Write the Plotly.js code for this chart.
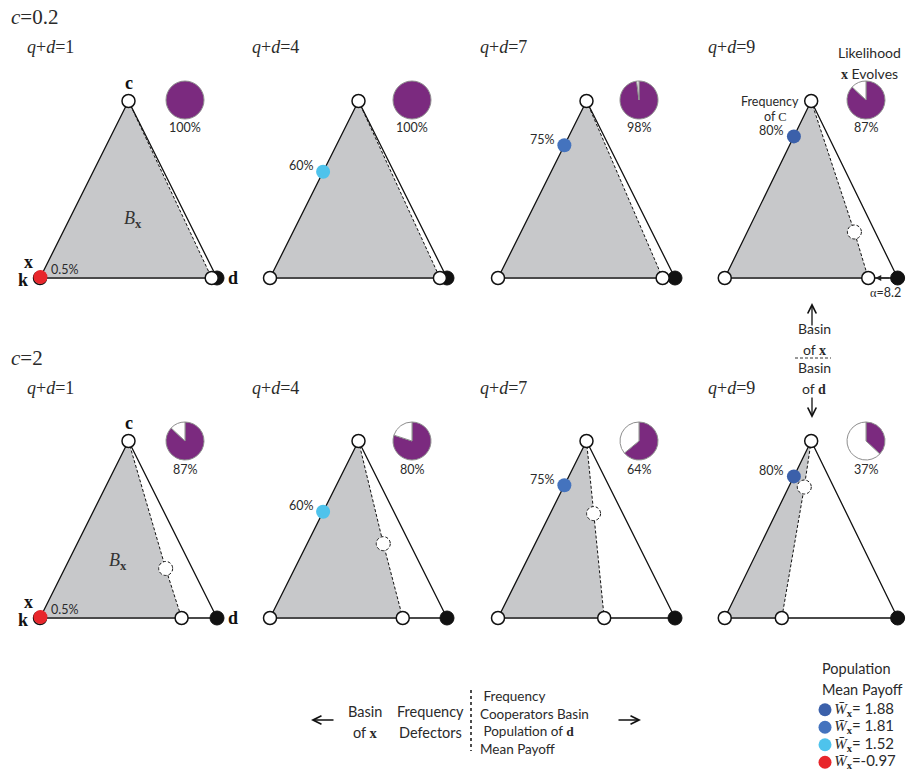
<!DOCTYPE html>
<html><head><meta charset="utf-8">
<script src="https://cdn.plot.ly/plotly-3.0.1.min.js"></script>
<style>html,body{margin:0;padding:0;background:#fff}</style>
</head><body><div id="chart" style="width:908px;height:773px"></div>
<script>
// ---------------- data ----------------
const rowCost = ['0.2', '2'];                    // c
const groupSize = [1, 4, 7, 9];                  // q+d
const likelihoodTop = [100, 100, 98, 87];        // % likelihood x evolves, c=0.2
const likelihoodBottom = [87, 80, 64, 37];       // % likelihood x evolves, c=2
const coopFreq = [0.5, 60, 75, 80];              // % cooperators at x
const meanPayoff = [-0.97, 1.52, 1.81, 1.88];    // population mean payoff at x
const payoffColors = ['#e8262b', '#4ec3ec', '#4473be', '#3b60aa'];
// basin boundary: point on the k-d edge (fraction along edge) and interior saddle (triangle units)
const basinEdgeTop = [0.97, 0.96, 0.93, 0.83];
const basinEdgeBottom = [0.80, 0.75, 0.60, 0.33];
const saddleXTop = [null, null, null, 0.75];
const saddleYTop = [null, null, null, 0.26];
const saddleXBottom = [0.71, 0.64, 0.54, 0.46];
const saddleYBottom = [0.28, 0.42, 0.59, 0.74];
const alphaValue = 8.2;

// ---------------- layout constants ----------------
const W = 908, H = 773;
const colLeft = [40, 270, 498, 725];
const triW = 177, triH = 177;
const rowBase = [278, 618];
const pieCX = [185, 412, 639, 866];
const pieCY = [100, 441];
const pieR = 19;
const qdLabelX = [25, 250, 478, 706];
const qdLabelY = [47, 388];
const costLabelY = [17, 358];
const bLabelPos = [[0.525, 0.33], [0.44, 0.32]];
const PAD = 0.06;
const SERIF = 'Liberation Serif';
const SANS = 'Lato';
const TXT = '#2a2a2a';

const px = v => v / W, py = v => 1 - v / H;
const traces = [], annotations = [], shapes = [];
const layout = {
  width: W, height: H, margin: {l: 0, r: 0, t: 0, b: 0, pad: 0},
  showlegend: false, paper_bgcolor: '#fff', plot_bgcolor: 'rgba(0,0,0,0)',
  font: {family: SANS, size: 12, color: TXT}
};

function ann(text, x, y, o) {
  return Object.assign({xref: 'paper', yref: 'paper', x: px(x), y: py(y), text: text,
    showarrow: false, xanchor: 'center', yanchor: 'middle',
    font: {family: SANS, size: 12.5, color: TXT}}, o || {});
}
const serif = s => '<span style="font-family:' + SERIF + '">' + s + '</span>';

const likelihood = [likelihoodTop, likelihoodBottom];
const basinEdge = [basinEdgeTop, basinEdgeBottom];
const saddleX = [saddleXTop, saddleXBottom];
const saddleY = [saddleYTop, saddleYBottom];

for (let r = 0; r < 2; r++) {
  annotations.push(ann('<i>c</i>=' + rowCost[r], 9, costLabelY[r],
    {xanchor: 'left', font: {family: SERIF, size: 21, color: TXT}}));
  for (let j = 0; j < 4; j++) {
    const n = r * 4 + j + 1;
    const xa = n === 1 ? 'x' : 'x' + n, ya = n === 1 ? 'y' : 'y' + n;
    const padW = PAD * triW, padH = PAD * triH;
    layout[n === 1 ? 'xaxis' : 'xaxis' + n] = {
      domain: [px(colLeft[j] - padW), px(colLeft[j] + triW + padW)],
      range: [-PAD, 1 + PAD], visible: false, fixedrange: true, anchor: ya};
    layout[n === 1 ? 'yaxis' : 'yaxis' + n] = {
      domain: [py(rowBase[r] + padH), py(rowBase[r] - triH - padH)],
      range: [-PAD, 1 + PAD], visible: false, fixedrange: true, anchor: xa};
    const base = {type: 'scatter', xaxis: xa, yaxis: ya, hoverinfo: 'skip', cliponaxis: false, showlegend: false};
    const be = basinEdge[r][j], sx = saddleX[r][j], sy = saddleY[r][j];
    const bxs = sx == null ? [0, 0.5, be, 0] : [0, 0.5, sx, be, 0];
    const bys = sx == null ? [0, 1, 0, 0] : [0, 1, sy, 0, 0];
    // basin of x (shaded)
    traces.push(Object.assign({}, base, {x: bxs, y: bys, mode: 'lines', fill: 'toself',
      fillcolor: '#c7c8ca', line: {width: 0}}));
    // k-d edge
    traces.push(Object.assign({}, base, {x: [0, 1], y: [0, 0], mode: 'lines', line: {color: '#4a4a4a', width: 2}}));
    // k-c-d edges
    traces.push(Object.assign({}, base, {x: [0, 0.5, 1], y: [0, 1, 0], mode: 'lines', line: {color: '#111', width: 1.3}}));
    // basin boundary (dashed)
    const dxs = sx == null ? [0.5, be] : [0.5, sx, be];
    const dys = sx == null ? [1, 0] : [1, sy, 0];
    traces.push(Object.assign({}, base, {x: dxs, y: dys, mode: 'lines', line: {color: '#111', width: 1, dash: '3px,2px'}}));
    // vertices
    traces.push(Object.assign({}, base, {x: [1], y: [0], mode: 'markers',
      marker: {size: 14, color: '#111', line: {color: '#111', width: 1}}}));
    traces.push(Object.assign({}, base, {x: [0, 0.5, be], y: [0, 1, 0], mode: 'markers',
      marker: {size: 13, color: '#fff', line: {color: '#111', width: 1.5}}}));
    // saddle (dashed open circle)
    if (sx != null) {
      shapes.push({type: 'circle', xref: xa, yref: ya, xsizemode: 'pixel', ysizemode: 'pixel',
        xanchor: sx, yanchor: sy, x0: -7, x1: 7, y0: -7, y1: 7, fillcolor: '#fff',
        line: {color: '#111', width: 1, dash: '3px,2px'}, layer: 'above'});
    }
    // frequency of cooperators at x
    const f = coopFreq[j] / 100;
    traces.push(Object.assign({}, base, {x: [0.5 * f], y: [f], mode: 'markers',
      marker: {size: 14, color: payoffColors[j], line: {width: 0}}}));
    annotations.push({xref: xa, yref: ya, x: 0.5 * f, y: f, text: coopFreq[j] + '%', showarrow: false,
      xshift: j === 0 ? 24 : -22, yshift: j === 0 ? 8 : 6, font: {family: SANS, size: 12.5, color: TXT}});
    // q+d label
    annotations.push(ann('<i>q</i>+<i>d</i>=' + groupSize[j], qdLabelX[j], qdLabelY[r],
      {xanchor: 'left', font: {family: SERIF, size: 18, color: TXT}}));
    // pie: likelihood x evolves
    const p = likelihood[r][j];
    const vals = p >= 100 ? [p] : [p, 100 - p];
    traces.push({type: 'pie', values: vals, sort: false, direction: 'clockwise', rotation: 0,
      marker: {colors: ['#7b2a7f', '#ffffff'], line: {color: '#8e8e8e', width: 1}},
      textinfo: 'none', hoverinfo: 'skip', showlegend: false,
      domain: {x: [px(pieCX[j] - pieR), px(pieCX[j] + pieR)], y: [py(pieCY[r] + pieR), py(pieCY[r] - pieR)]}});
    annotations.push(ann(p + '%', pieCX[j], pieCY[r] + 28));
    if (j === 0) {
      const vf = {family: SERIF, size: 18, color: '#111'};
      annotations.push({xref: xa, yref: ya, x: 0.5, y: 1, text: '<b>c</b>', showarrow: false, yshift: 18, font: vf});
      annotations.push({xref: xa, yref: ya, x: 0, y: 0, text: '<b>x</b>', showarrow: false, xshift: -12, yshift: 16, font: vf});
      annotations.push({xref: xa, yref: ya, x: 0, y: 0, text: '<b>k</b>', showarrow: false, xshift: -17, yshift: -2, font: vf});
      annotations.push({xref: xa, yref: ya, x: 1, y: 0, text: '<b>d</b>', showarrow: false, xshift: 16, yshift: 0, font: vf});
      annotations.push({xref: xa, yref: ya, x: bLabelPos[r][0], y: bLabelPos[r][1], text: '<i>B</i><sub><b>x</b></sub>',
        showarrow: false, font: {family: SERIF, size: 18, color: '#333'}});
    }
    if (r === 0 && j === 3) {
      // alpha arrow from d to boundary point
      annotations.push({xref: xa, yref: ya, x: be, y: 0, axref: xa, ayref: ya, ax: 1, ay: 0, text: '',
        showarrow: true, arrowhead: 2, arrowsize: 1, arrowwidth: 1.2, arrowcolor: '#222', standoff: 7, startstandoff: 7});
    }
  }
}

// stacked two-line label: first line sits above the split, second below it
function stack2(t1, t2, x, ySplit, o, size) {
  const f = {font: {family: SANS, size: size || 14.5, color: TXT}};
  annotations.push(ann(t1, x, ySplit, Object.assign({}, f, o || {}, {yanchor: 'bottom'})));
  annotations.push(ann(t2, x, ySplit, Object.assign({}, f, o || {}, {yanchor: 'top'})));
}

// top-right annotations
stack2('Likelihood', serif('<b>x</b>') + ' Evolves', 869, 63, {}, 14);
annotations.push(ann('Frequency', 770, 102));
annotations.push(ann('of ' + serif('C'), 775, 116));
annotations.push(ann(serif('α') + '=' + alphaValue, 885, 293));

// middle-right key
stack2('Basin', 'of ' + serif('<b>x</b>'), 814, 339, {}, 14);
stack2('Basin', 'of ' + serif('<b>d</b>'), 814, 378, {}, 14);
const arrowStyle = {showarrow: true, arrowhead: 5, arrowsize: 1.3, arrowwidth: 1.3, arrowcolor: '#111', text: ''};
annotations.push(Object.assign(ann('', 812, 303), arrowStyle, {ax: 0, ay: 24}));
annotations.push(Object.assign(ann('', 812, 418), arrowStyle, {ax: 0, ay: -22}));
shapes.push({type: 'line', xref: 'paper', yref: 'paper', x0: px(795), x1: px(831), y0: py(358), y1: py(358),
  line: {color: '#333', width: 1, dash: '3px,2px'}});

// bottom centre key
annotations.push(Object.assign(ann('', 311, 720), arrowStyle, {ax: 24, ay: 0}));
annotations.push(Object.assign(ann('', 641, 720), arrowStyle, {ax: -24, ay: 0}));
stack2('Basin', 'of ' + serif('<b>x</b>'), 365, 722);
stack2('Frequency', 'Defectors', 430, 722);
annotations.push(ann('&nbsp;Frequency<br>Cooperators Basin<br>&nbsp;Population of ' + serif('<b>d</b>') + '<br>Mean Payoff',
  478, 722, {xanchor: 'left', align: 'left', font: {family: SANS, size: 13.5, color: TXT}}));
shapes.push({type: 'line', xref: 'paper', yref: 'paper', x0: px(471), x1: px(471), y0: py(690), y1: py(751),
  line: {color: '#222', width: 1.6, dash: 'dot'}});

// payoff key
stack2('Population', 'Mean Payoff', 820, 679, {xanchor: 'left'});
const order = [3, 2, 1, 0];
layout.xaxis9 = {domain: [px(815), px(835)], range: [0, 1], visible: false, fixedrange: true, anchor: 'y9'};
layout.yaxis9 = {domain: [py(771), py(701)], range: [3.5, -0.5], visible: false, fixedrange: true, anchor: 'x9'};
traces.push({type: 'scatter', xaxis: 'x9', yaxis: 'y9', mode: 'markers+text', hoverinfo: 'skip', cliponaxis: false,
  x: order.map(() => 0.5), y: order.map((_, i) => i),
  marker: {size: 13, color: order.map(i => payoffColors[i])},
  text: order.map(i => serif('<i>W̄</i><sub><b>x</b></sub>') + (meanPayoff[i] < 0 ? '=' : '= ') + meanPayoff[i].toFixed(2)),
  textposition: 'middle right', textfont: {family: SANS, size: 15, color: TXT}});

layout.annotations = annotations;
layout.shapes = shapes;
Plotly.newPlot('chart', traces, layout, {staticPlot: true, displayModeBar: false});
</script>
</body></html>
